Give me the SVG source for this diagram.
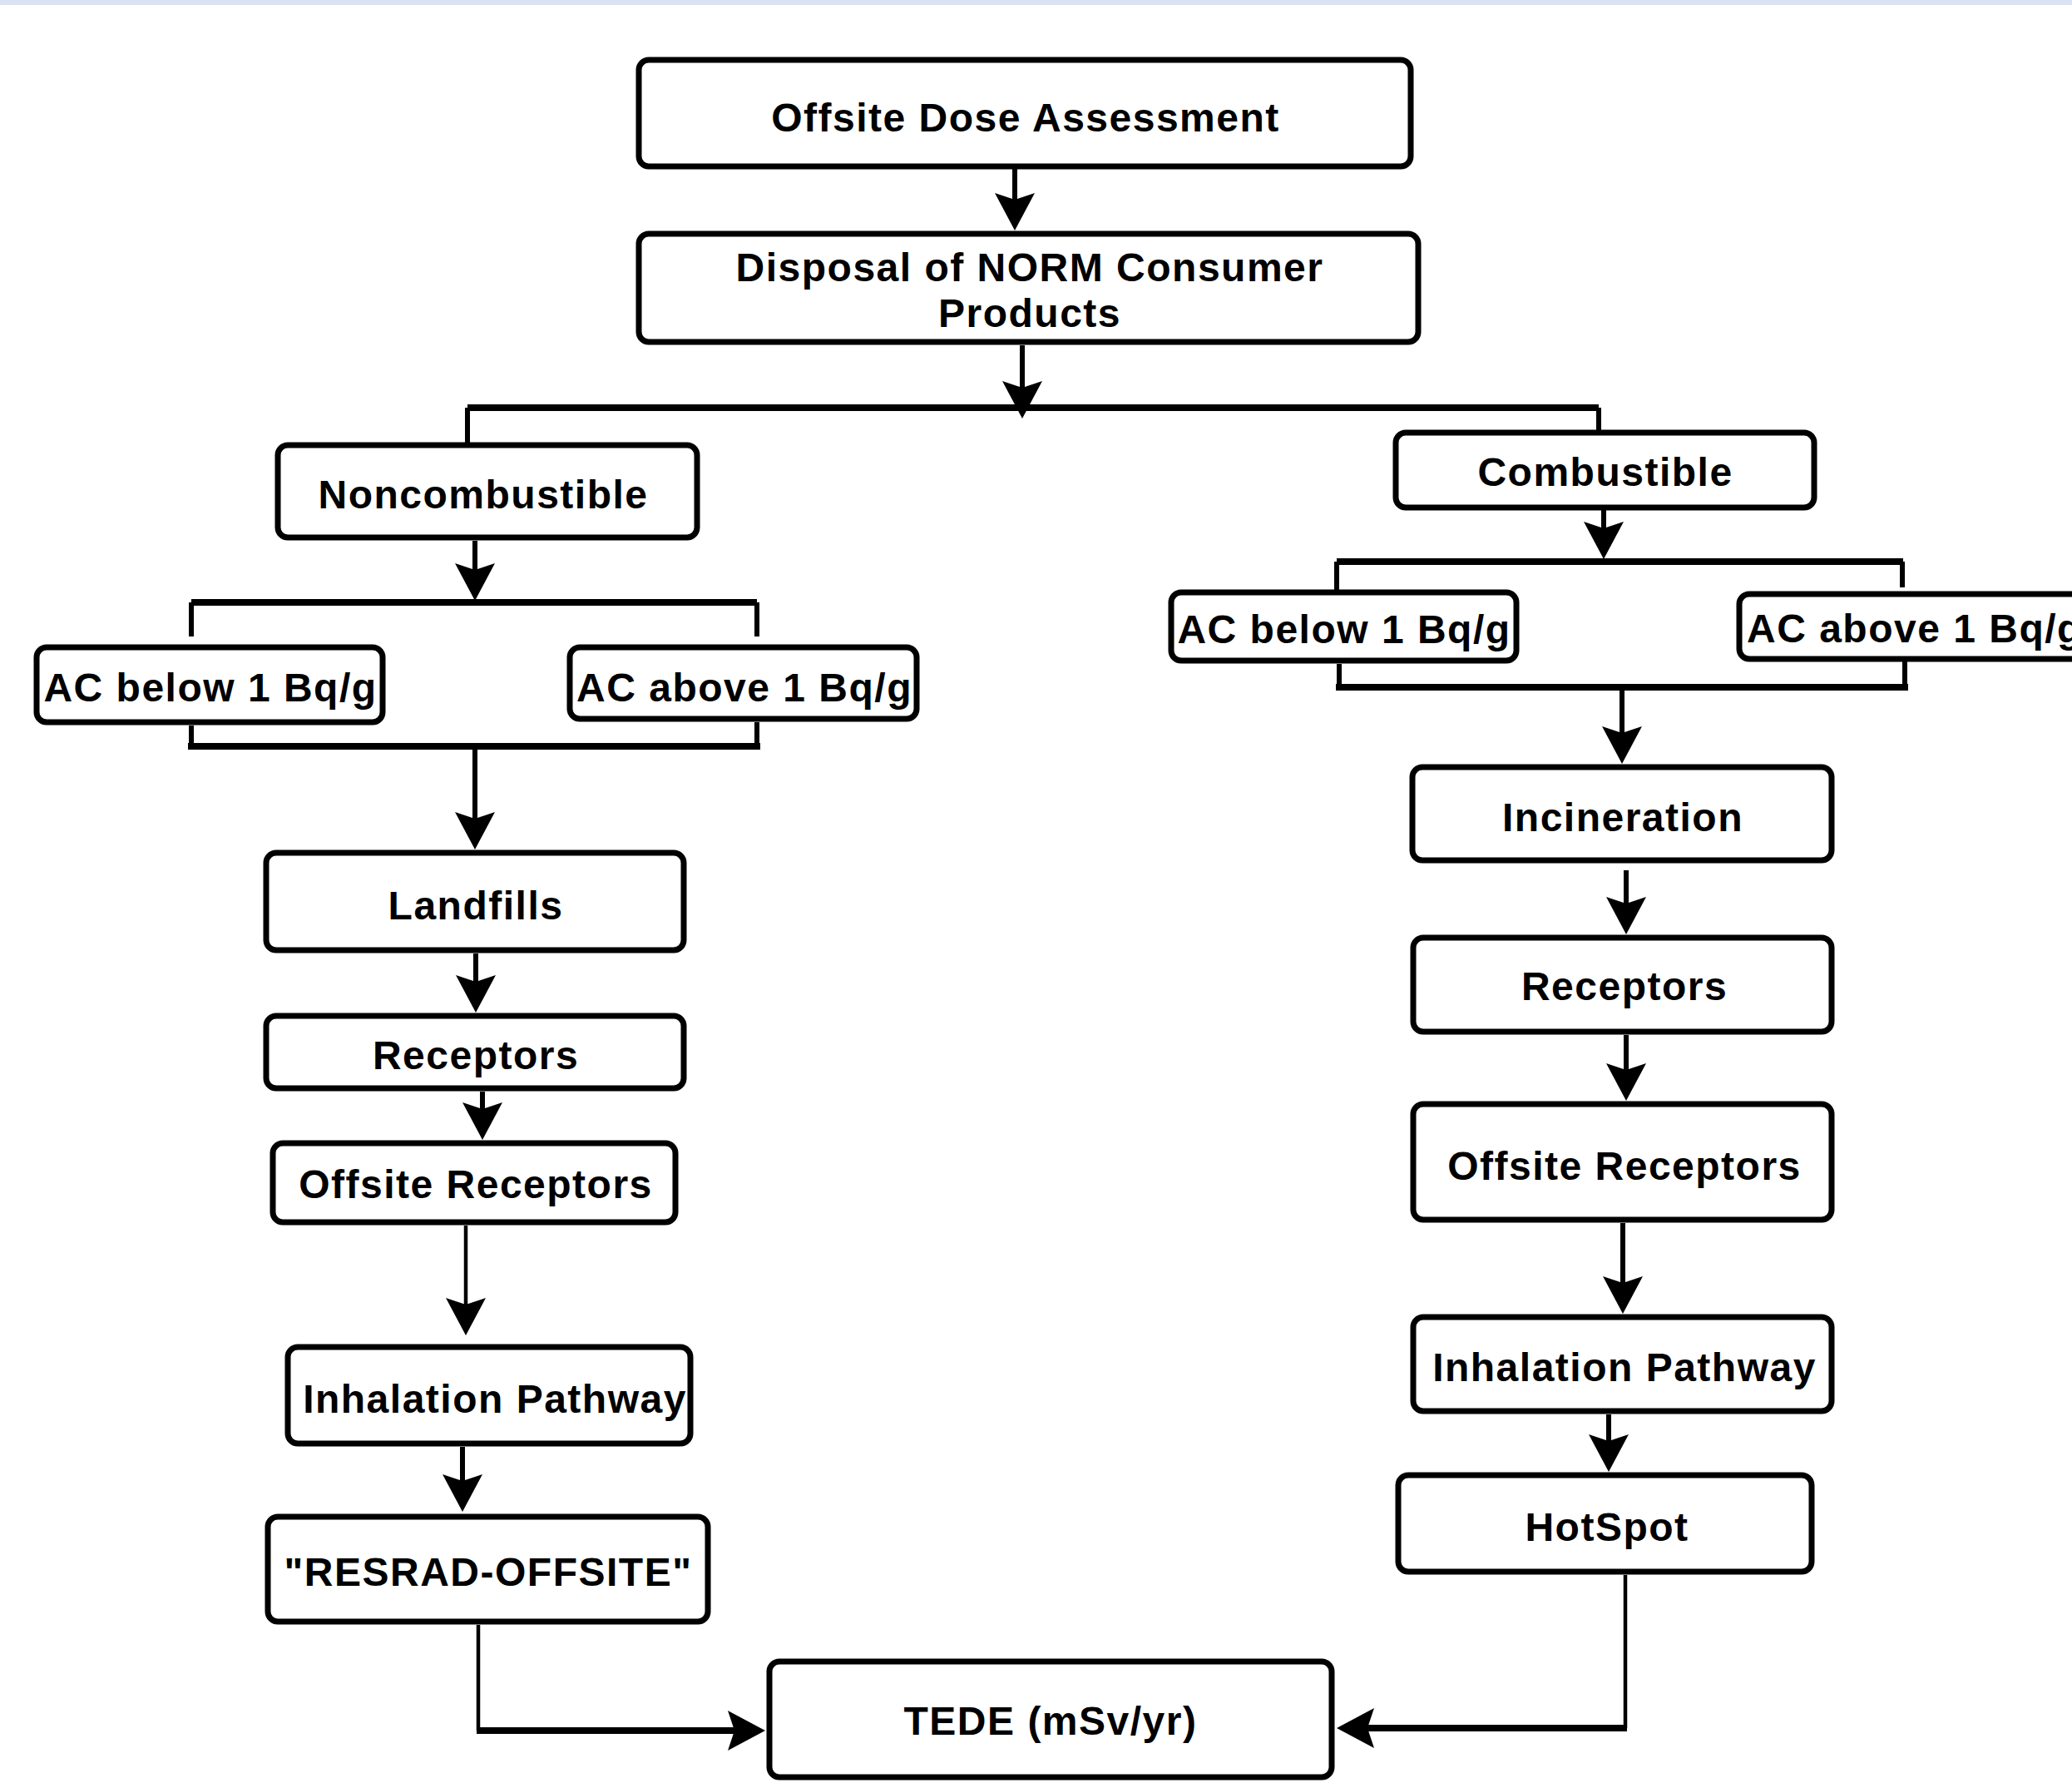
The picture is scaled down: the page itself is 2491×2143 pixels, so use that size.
<svg xmlns="http://www.w3.org/2000/svg" width="2491" height="2143" viewBox="0 0 2491 2143">
<style>
.box{fill:#ffffff;stroke:#000000;stroke-width:7}
.t{font-family:"Liberation Sans",Arial,sans-serif;font-size:48px;font-weight:bold;letter-spacing:1.5px;fill:#000000;text-anchor:middle}
.c{stroke:#000000;stroke-width:6;fill:none}
.thin{stroke:#000000;stroke-width:4.5;fill:none}
.bar{stroke:#000000;stroke-width:8;fill:none}
.arr{marker-end:url(#ah)}
</style>
<defs>
<marker id="ah" viewBox="-46 -25 48 50" refX="-12" refY="0" markerWidth="48" markerHeight="50" markerUnits="userSpaceOnUse" orient="auto">
<path d="M0,0 L-45,-24 L-37,0 L-45,24 Z" fill="#000000"/>
</marker>
</defs>
<rect x="0" y="0" width="2491" height="6" fill="#dae3f3"/>
<rect x="0" y="6" width="2491" height="2137" fill="#ffffff"/>

<g id="connectors">
<line class="c arr" x1="1220" y1="203" x2="1220" y2="265"/>
<line class="c arr" x1="1229" y1="415" x2="1229" y2="491"/>
<line class="bar" x1="562" y1="490" x2="1922" y2="490"/>
<line class="c" x1="562" y1="490" x2="562" y2="535"/>
<line class="c" x1="1922" y1="490" x2="1922" y2="520"/>

<line class="c arr" x1="571" y1="650" x2="571" y2="710"/>
<line class="bar" x1="230" y1="724" x2="910" y2="724"/>
<line class="c" x1="230" y1="724" x2="230" y2="765"/>
<line class="c" x1="910" y1="724" x2="910" y2="765"/>
<line class="c" x1="230" y1="872" x2="230" y2="897"/>
<line class="c" x1="910" y1="868" x2="910" y2="897"/>
<line class="bar" x1="226" y1="897" x2="914" y2="897"/>
<line class="c arr" x1="571" y1="897" x2="571" y2="1009"/>
<line class="c arr" x1="572" y1="1146" x2="572" y2="1205"/>
<line class="c arr" x1="580" y1="1312" x2="580" y2="1358"/>
<line class="thin arr" x1="560" y1="1473" x2="560" y2="1593"/>
<line class="c arr" x1="556" y1="1739" x2="556" y2="1805"/>
<line class="thin" x1="575" y1="1953" x2="575" y2="2080"/>
<line class="bar arr" x1="573" y1="2080" x2="908" y2="2080"/>

<line class="c arr" x1="1928" y1="610" x2="1928" y2="660"/>
<line class="bar" x1="1607" y1="675" x2="2288" y2="675"/>
<line class="c" x1="1607" y1="675" x2="1607" y2="712"/>
<line class="c" x1="2287" y1="675" x2="2287" y2="706"/>
<line class="c" x1="1610" y1="798" x2="1610" y2="826"/>
<line class="c" x1="2290" y1="793" x2="2290" y2="826"/>
<line class="bar" x1="1606" y1="826" x2="2294" y2="826"/>
<line class="c arr" x1="1950" y1="826" x2="1950" y2="906"/>
<line class="c arr" x1="1955" y1="1046" x2="1955" y2="1111"/>
<line class="c arr" x1="1955" y1="1244" x2="1955" y2="1311"/>
<line class="c arr" x1="1951" y1="1470" x2="1951" y2="1567"/>
<line class="c arr" x1="1934" y1="1700" x2="1934" y2="1757"/>
<line class="thin" x1="1954" y1="1893" x2="1954" y2="2077"/>
<line class="bar arr" x1="1956" y1="2077" x2="1619" y2="2077"/>
</g>

<g id="n-offsite-dose"><rect class="box" x="768" y="72" width="928" height="128" rx="12"/><text class="t" x="1233" y="158">Offsite Dose Assessment</text></g>
<g id="n-disposal"><rect class="box" x="768" y="281" width="937" height="130" rx="12"/><text class="t" x="1238" y="338">Disposal of NORM Consumer</text><text class="t" x="1238" y="393">Products</text></g>
<g id="n-noncombustible"><rect class="box" x="334" y="535" width="504" height="111" rx="12"/><text class="t" x="581" y="611">Noncombustible</text></g>
<g id="n-combustible"><rect class="box" x="1678" y="520" width="503" height="90" rx="12"/><text class="t" x="1930" y="584">Combustible</text></g>
<g id="n-ac-below-left"><rect class="box" x="44" y="778" width="416" height="90" rx="12"/><text class="t" x="253" y="843">AC below 1 Bq/g</text></g>
<g id="n-ac-above-left"><rect class="box" x="685" y="778" width="417" height="86" rx="12"/><text class="t" x="895" y="843">AC above 1 Bq/g</text></g>
<g id="n-ac-below-right"><rect class="box" x="1408" y="712" width="415" height="82" rx="12"/><text class="t" x="1616" y="773">AC below 1 Bq/g</text></g>
<g id="n-ac-above-right"><rect class="box" x="2091" y="714" width="420" height="78" rx="12"/><text class="t" x="2100" y="772" style="text-anchor:start">AC above 1 Bq/g</text></g>
<g id="n-landfills"><rect class="box" x="320" y="1025" width="502" height="117" rx="12"/><text class="t" x="572" y="1105">Landfills</text></g>
<g id="n-receptors-left"><rect class="box" x="320" y="1221" width="502" height="87" rx="12"/><text class="t" x="572" y="1285">Receptors</text></g>
<g id="n-offsite-receptors-left"><rect class="box" x="328" y="1374" width="484" height="95" rx="12"/><text class="t" x="572" y="1440">Offsite Receptors</text></g>
<g id="n-inhalation-left"><rect class="box" x="346" y="1619" width="484" height="116" rx="12"/><text class="t" x="595" y="1698">Inhalation Pathway</text></g>
<g id="n-resrad"><rect class="box" x="322" y="1823" width="529" height="126" rx="12"/><text class="t" x="587" y="1906">"RESRAD-OFFSITE"</text></g>
<g id="n-tede"><rect class="box" x="925" y="1997" width="676" height="139" rx="12"/><text class="t" x="1263" y="2085">TEDE (mSv/yr)</text></g>
<g id="n-incineration"><rect class="box" x="1698" y="922" width="504" height="112" rx="12"/><text class="t" x="1951" y="999">Incineration</text></g>
<g id="n-receptors-right"><rect class="box" x="1699" y="1127" width="503" height="113" rx="12"/><text class="t" x="1953" y="1202">Receptors</text></g>
<g id="n-offsite-receptors-right"><rect class="box" x="1699" y="1327" width="503" height="139" rx="12"/><text class="t" x="1953" y="1418">Offsite Receptors</text></g>
<g id="n-inhalation-right"><rect class="box" x="1699" y="1583" width="503" height="113" rx="12"/><text class="t" x="1953" y="1660">Inhalation Pathway</text></g>
<g id="n-hotspot"><rect class="box" x="1681" y="1773" width="497" height="116" rx="12"/><text class="t" x="1932" y="1852">HotSpot</text></g>
</svg>
